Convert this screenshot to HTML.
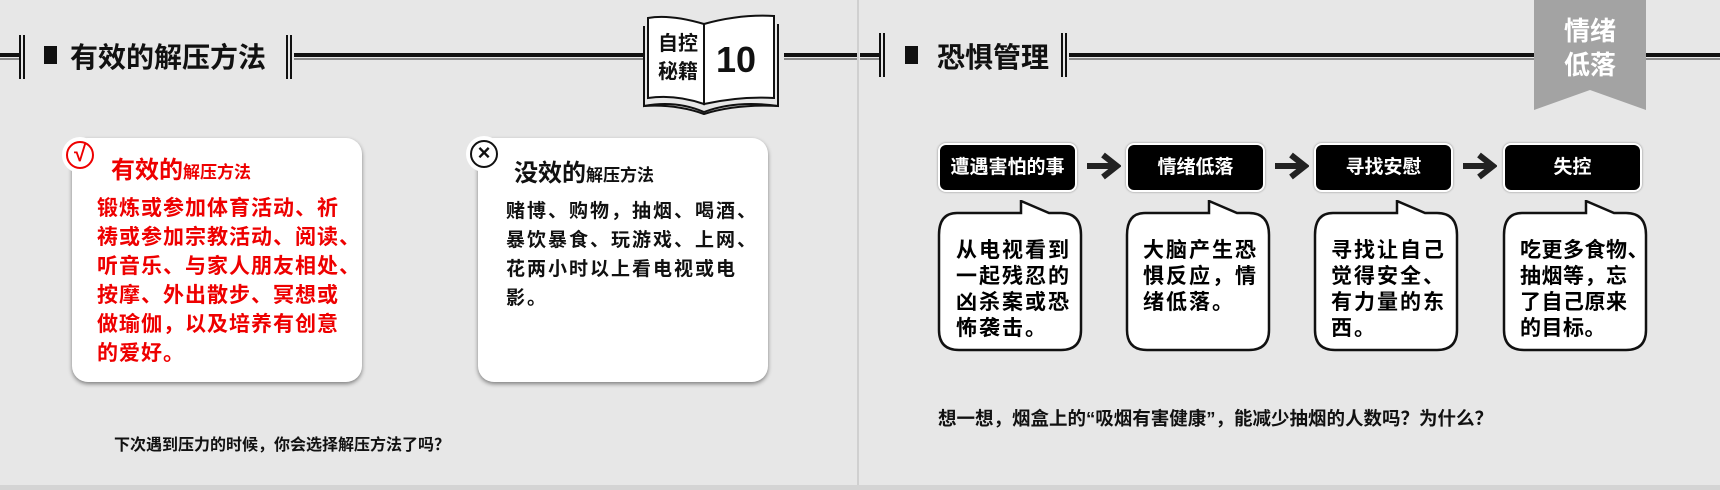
<!DOCTYPE html>
<html><head><meta charset="utf-8"><style>
*{margin:0;padding:0;box-sizing:border-box}
body{width:1720px;height:490px;overflow:hidden;background:#e7e7e7;font-family:"Liberation Sans","Noto Sans CJK SC",sans-serif;font-weight:bold;position:relative}
.a{position:absolute}
.hl{position:absolute;height:7px;border-top:4px solid #111;border-bottom:2px solid #888}
.vb{position:absolute;width:6px;height:44px;border-left:2px solid #111;border-right:2px solid #111}
.card{position:absolute;background:#fff;border-radius:16px;box-shadow:0 2px 4px rgba(0,0,0,.45)}
.box{position:absolute;top:143px;width:139px;height:49px;background:#000;border:2px solid #fff;border-radius:8px;box-shadow:0 0 2px #888;color:#fff;font-size:19px;text-align:center;line-height:45px}
.arr{position:absolute;top:152px;width:36px;height:28px}
.bub{position:absolute;top:200px;width:146px;height:153px}
.bt{position:absolute;top:238px;font-size:21px;letter-spacing:2px;line-height:26px;color:#000;white-space:nowrap}
.nw{white-space:nowrap}
</style></head><body>
<div class="a" style="left:857px;top:0;width:2px;height:485px;background:#d0d0d0"></div>
<div class="a" style="left:0;top:485px;width:1720px;height:5px;background:#d4d4d4"></div>

<div class="hl" style="left:0;top:53px;width:20px"></div>
<div class="vb" style="left:19px;top:35px"></div>
<div class="a" style="left:44px;top:46px;width:13px;height:18px;background:#111"></div>
<div class="a" style="left:70px;top:36px;font-size:28px;color:#111">有效的解压方法</div>
<div class="vb" style="left:286px;top:35px"></div>
<div class="hl" style="left:294px;top:53px;width:350px"></div>
<div class="hl" style="left:784px;top:53px;width:73px"></div>
<svg class="a" style="left:638px;top:12px" width="152" height="104" viewBox="0 0 148 104">
<path d="M8 6 Q30 2 64 12 L64 92 Q35 82 8 86 Z" fill="#fff" stroke="#111" stroke-width="2"/>
<path d="M64 12 Q100 2 134 4 L134 86 Q100 84 64 92 Z" fill="#fff" stroke="#111" stroke-width="2"/>
<path d="M4 14 L4 94 Q36 88 64 100 Q96 88 138 94 L138 12" fill="none" stroke="#111" stroke-width="2"/>
<path d="M4 94 Q36 92 64 102 Q96 92 138 94" fill="none" stroke="#111" stroke-width="2"/>
<text x="18" y="38" font-size="20" font-weight="bold" fill="#111" font-family="Liberation Sans,Noto Sans CJK SC,sans-serif">自控</text>
<text x="18" y="66" font-size="20" font-weight="bold" fill="#111" font-family="Liberation Sans,Noto Sans CJK SC,sans-serif">秘籍</text>
<text x="76" y="60" font-size="36" font-weight="bold" fill="#111" font-family="Liberation Sans,sans-serif">10</text>
</svg>

<div class="card" style="left:72px;top:138px;width:290px;height:244px"></div>
<div class="a" style="left:62px;top:137px;width:36px;height:36px;border-radius:50%;background:#fff"></div>
<div class="a" style="left:66px;top:141px;width:28px;height:28px;border-radius:50%;border:2.5px solid #e00;color:#e00;font-size:22px;line-height:22px;text-align:center">√</div>
<div class="a" style="left:111px;top:150px;color:#e00;font-size:24px">有效的<span style="font-size:17px">解压方法</span></div>
<div class="a nw" style="left:97px;top:194px;color:#e00;font-size:21px;letter-spacing:1px;line-height:29px">锻炼或参加体育活动、祈<br>祷或参加宗教活动、阅读、<br>听音乐、与家人朋友相处、<br>按摩、外出散步、冥想或<br>做瑜伽，以及培养有创意<br>的爱好。</div>

<div class="card" style="left:478px;top:138px;width:290px;height:244px"></div>
<div class="a" style="left:466px;top:136px;width:36px;height:36px;border-radius:50%;background:#fff"></div>
<div class="a" style="left:470px;top:140px;width:28px;height:28px;border-radius:50%;border:2.5px solid #111;color:#111;font-size:22px;line-height:22px;text-align:center">×</div>
<div class="a" style="left:514px;top:153px;color:#111;font-size:24px">没效的<span style="font-size:17px">解压方法</span></div>
<div class="a nw" style="left:506px;top:197px;color:#111;font-size:19px;letter-spacing:2px;line-height:29px">赌博、购物，抽烟、喝酒、<br>暴饮暴食、玩游戏、上网、<br>花两小时以上看电视或电<br>影。</div>
<div class="a" style="left:114px;top:431px;font-size:16px;color:#111">下次遇到压力的时候，你会选择解压方法了吗？</div>

<div class="hl" style="left:860px;top:53px;width:20px"></div>
<div class="vb" style="left:879px;top:33px"></div>
<div class="a" style="left:905px;top:46px;width:13px;height:18px;background:#111"></div>
<div class="a" style="left:937px;top:36px;font-size:28px;color:#111">恐惧管理</div>
<div class="vb" style="left:1061px;top:33px"></div>
<div class="hl" style="left:1069px;top:53px;width:466px"></div>
<div class="hl" style="left:1646px;top:53px;width:74px"></div>
<svg class="a" style="left:1534px;top:0" width="112" height="112"><polygon points="0,0 112,0 112,110 56,90 0,110" fill="#a3a3a3"/></svg>
<div class="a" style="left:1548px;top:14px;width:84px;text-align:center;color:#fff;font-size:26px;line-height:34px">情绪<br>低落</div>

<div class="box" style="left:938px">遭遇害怕的事</div>
<div class="box" style="left:1126px">情绪低落</div>
<div class="box" style="left:1314px">寻找安慰</div>
<div class="box" style="left:1503px">失控</div>
<svg class="arr" style="left:1085px" viewBox="0 0 36 28"><path d="M2 14 H30 M18 3 L32 14 L18 25" stroke="#222" stroke-width="6" fill="none"/></svg>
<svg class="arr" style="left:1273px" viewBox="0 0 36 28"><path d="M2 14 H30 M18 3 L32 14 L18 25" stroke="#222" stroke-width="6" fill="none"/></svg>
<svg class="arr" style="left:1461px" viewBox="0 0 36 28"><path d="M2 14 H30 M18 3 L32 14 L18 25" stroke="#222" stroke-width="6" fill="none"/></svg>

<svg class="bub" style="left:937px" viewBox="0 0 146 153"><path d="M20 13 H84 V1 L112 13 H124 Q144 13 144 35 V130 Q144 150 124 150 H22 Q2 150 2 130 V35 Q2 13 20 13Z" fill="#fff" stroke="#111" stroke-width="2.5"/></svg>
<svg class="bub" style="left:1125px" viewBox="0 0 146 153"><path d="M20 13 H84 V1 L112 13 H124 Q144 13 144 35 V130 Q144 150 124 150 H22 Q2 150 2 130 V35 Q2 13 20 13Z" fill="#fff" stroke="#111" stroke-width="2.5"/></svg>
<svg class="bub" style="left:1313px" viewBox="0 0 146 153"><path d="M20 13 H84 V1 L112 13 H124 Q144 13 144 35 V130 Q144 150 124 150 H22 Q2 150 2 130 V35 Q2 13 20 13Z" fill="#fff" stroke="#111" stroke-width="2.5"/></svg>
<svg class="bub" style="left:1502px" viewBox="0 0 146 153"><path d="M20 13 H84 V1 L112 13 H124 Q144 13 144 35 V130 Q144 150 124 150 H22 Q2 150 2 130 V35 Q2 13 20 13Z" fill="#fff" stroke="#111" stroke-width="2.5"/></svg>
<div class="bt" style="left:956px">从电视看到<br>一起残忍的<br>凶杀案或恐<br>怖袭击。</div>
<div class="bt" style="left:1143px">大脑产生恐<br>惧反应，情<br>绪低落。</div>
<div class="bt" style="left:1331px">寻找让自己<br>觉得安全、<br>有力量的东<br>西。</div>
<div class="bt" style="left:1520px;letter-spacing:0.5px">吃更多食物、<br>抽烟等，忘<br>了自己原来<br>的目标。</div>
<div class="a" style="left:938px;top:405px;font-size:18.5px;color:#111">想一想，烟盒上的“吸烟有害健康”，能减少抽烟的人数吗？为什么？</div>
</body></html>
